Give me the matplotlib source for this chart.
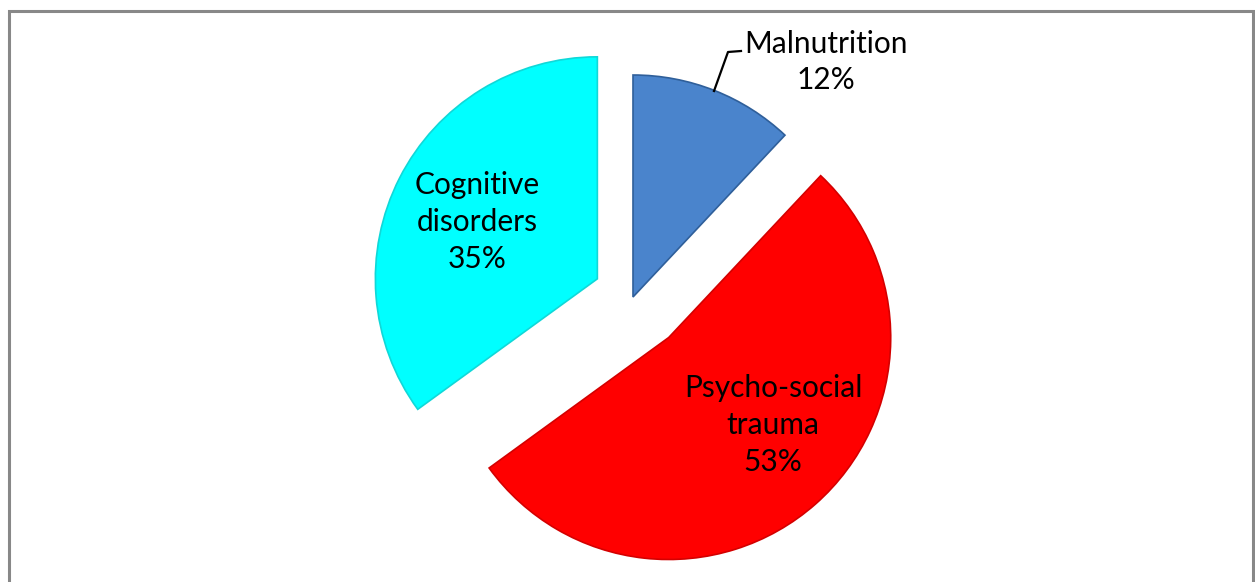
import matplotlib.pyplot as plt
from matplotlib.patches import Rectangle

# data
names = ['Malnutrition', 'Psycho-social\ntrauma', 'Cognitive\ndisorders']
pcts = [12, 53, 35]
colors = ['#4a84cc', '#ff0000', '#00ffff']

W, H = 1255, 582
fig = plt.figure(figsize=(W / 100, H / 100), dpi=100)
ax = fig.add_axes([0, 0, 1, 1])

# pie in pixel units (y up)
cx, cy = 633, H - 297
radius = 222
explode = [0, 54, 40]

wedges, _ = ax.pie(pcts, colors=colors, startangle=90, counterclock=False,
                   radius=radius, center=(cx, cy), explode=explode,
                   wedgeprops=dict(linewidth=1.2))
wedges[0].set_edgecolor('#2f5f9a')
wedges[1].set_edgecolor('#d40000')
wedges[2].set_edgecolor('#10d8d8')

ax.set_aspect('auto')
ax.set_xlim(0, W)
ax.set_ylim(0, H)
ax.axis('off')

fnt = dict(family='Lato', fontsize=21.5, color='black', ha='center',
           va='center', linespacing=1.38)

def lab(i):
    return '%s\n%d%%' % (names[i], pcts[i])

ax.text(826, H - 62, lab(0), **fnt)
ax.text(773, H - 425, lab(1), **fnt)
ax.text(477, H - 222, lab(2), **fnt)

# leader line for Malnutrition
ax.plot([714, 728, 741], [H - 91, H - 52, H - 51], color='black', lw=1.6)

# outer border
fig.patches.append(Rectangle((9 / W, -0.05), (1244) / W, (H - 11) / H + 0.05,
                             transform=fig.transFigure, fill=False,
                             edgecolor='#888888', linewidth=2.2))

fig.savefig('out.png', dpi=100)
